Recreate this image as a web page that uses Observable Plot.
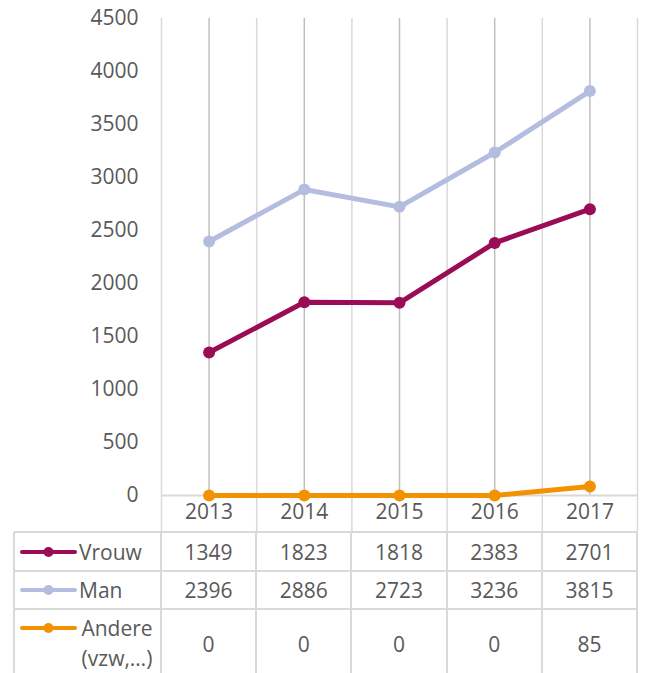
<!DOCTYPE html>
<html><head><meta charset="utf-8">
<script src="https://cdn.jsdelivr.net/npm/d3@7"></script>
<script src="https://cdn.jsdelivr.net/npm/@observablehq/plot@0.6"></script>
<style>
body{margin:0;background:#fff;}
#wrap{position:relative;width:645px;height:673px;overflow:hidden;font-family:"Open Sans",sans-serif;color:#595959;background:#fff;}
#wrap svg.chart{position:absolute;left:0;top:0;}
.cell{position:absolute;display:flex;align-items:center;justify-content:center;box-sizing:border-box;font-size:21px;line-height:30px;}
.lab{position:absolute;font-size:21px;line-height:30px;white-space:nowrap;}
.hl{position:absolute;height:2px;background:#d9d9d9;}
.vl{position:absolute;width:2px;background:#d9d9d9;}
</style></head><body><div id="wrap"></div>
<script>
// ---- data ----
const years = [2013, 2014, 2015, 2016, 2017];
const seriesNames = ["Vrouw", "Man", "Andere (vzw,…)"];
const seriesLabelLines = [["Vrouw"], ["Man"], ["Andere", "(vzw,…)"]];
const vrouw = [1349, 1823, 1818, 2383, 2701];
const man = [2396, 2886, 2723, 3236, 3815];
const andere = [0, 0, 0, 0, 85];
const yTicks = [0, 500, 1000, 1500, 2000, 2500, 3000, 3500, 4000, 4500];
const colors = ["#9b0c57", "#b4bde0", "#f39200"];

const seriesValues = [vrouw, man, andere];
const data = [];
seriesNames.forEach((s, k) => years.forEach((yr, i) => data.push({series: s, year: yr, value: seriesValues[k][i]})));
const bounds = years.map(y => y - 0.5).concat([years[years.length - 1] + 0.5]);

const W = 645, H = 532, MB = 37;
const chart = Plot.plot({
  width: W, height: H,
  marginTop: 18, marginBottom: MB, marginLeft: 161, marginRight: 8,
  style: {fontFamily: "Open Sans", fontSize: "21px", color: "#595959", background: "transparent", overflow: "visible"},
  x: {domain: [bounds[0], bounds[bounds.length - 1]], ticks: years, tickFormat: d => String(d), tickSize: 0, tickPadding: 9, label: null},
  y: {domain: [0, 4500], ticks: yTicks, tickFormat: d => String(d), tickSize: 0, tickPadding: 23, label: null},
  color: {domain: seriesNames, range: colors},
  marks: [
    Plot.ruleX(bounds, {stroke: "#d9d9d9", strokeWidth: 1.5, insetBottom: -MB}),
    Plot.ruleX(years, {stroke: "#bfbfbf", strokeWidth: 1.5}),
    Plot.ruleY([0], {stroke: "#d9d9d9", strokeWidth: 2}),
    Plot.line(data, {x: "year", y: "value", z: "series", stroke: "series", strokeWidth: 5, strokeLinejoin: "round", strokeLinecap: "round"}),
    Plot.dot(data, {x: "year", y: "value", fill: "series", r: 6})
  ]
});
chart.classList.add("chart");
const wrap = document.getElementById("wrap");
wrap.appendChild(chart);

// ---- data table below the chart ----
const xs = chart.scale("x");
const tableLeft = 14, top0 = H;
const rowH = [39, 38, 70];
const rowTops = [top0];
rowH.forEach((h, i) => rowTops.push(rowTops[i] + h));
const right = xs.apply(bounds[bounds.length - 1]);

function el(cls, css, html) {
  const d = document.createElement("div");
  d.className = cls;
  Object.assign(d.style, css);
  if (html != null) d.innerHTML = html;
  wrap.appendChild(d);
  return d;
}
rowTops.slice(0, 3).forEach(t => el("hl", {left: tableLeft + "px", top: (t - 1) + "px", width: (right - tableLeft + 1) + "px"}));
el("vl", {left: (tableLeft - 1) + "px", top: top0 + "px", height: (673 - top0) + "px"});
bounds.forEach(b => el("vl", {left: (xs.apply(b) - 1) + "px", top: top0 + "px", height: (673 - top0) + "px"}));

seriesNames.forEach((s, k) => {
  const t = rowTops[k], h = rowH[k];
  years.forEach((yr, i) => {
    const l = xs.apply(yr - 0.5), r = xs.apply(yr + 0.5);
    el("cell", {left: l + "px", width: (r - l) + "px", top: t + "px", height: h + "px"}, String(seriesValues[k][i]));
  });
  const lines = seriesLabelLines[k];
  const firstY = lines.length > 1 ? t + 19 : t + h / 2;
  const ns = "http://www.w3.org/2000/svg";
  const sw = document.createElementNS(ns, "svg");
  sw.setAttribute("width", 60); sw.setAttribute("height", 14);
  Object.assign(sw.style, {position: "absolute", left: "19px", top: (firstY - 7) + "px"});
  const ln = document.createElementNS(ns, "line");
  ln.setAttribute("x1", 3); ln.setAttribute("x2", 56); ln.setAttribute("y1", 7); ln.setAttribute("y2", 7);
  ln.setAttribute("stroke", colors[k]); ln.setAttribute("stroke-width", 4); ln.setAttribute("stroke-linecap", "round");
  const c = document.createElementNS(ns, "circle");
  c.setAttribute("cx", 29.5); c.setAttribute("cy", 7); c.setAttribute("r", 5); c.setAttribute("fill", colors[k]);
  sw.appendChild(ln); sw.appendChild(c); wrap.appendChild(sw);
  if (lines.length === 1) {
    el("lab", {left: "79px", top: (firstY - 15) + "px"}, lines[0]);
  } else {
    el("lab", {left: "80px", top: (firstY - 15) + "px", width: "74px", textAlign: "center"}, lines.join("<br>"));
  }
});
</script>
</body></html>
